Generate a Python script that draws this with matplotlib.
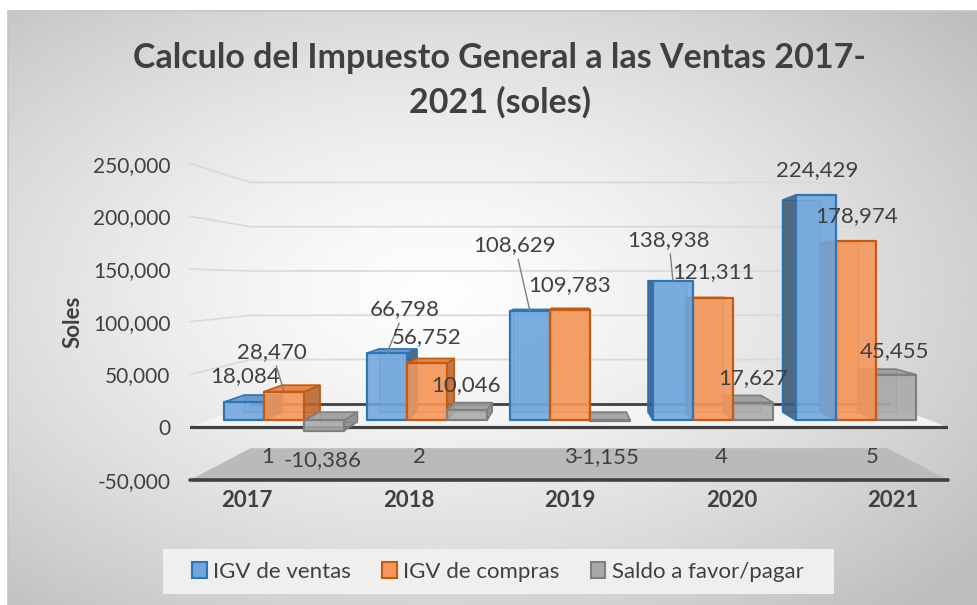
import numpy as np
import matplotlib.pyplot as plt
from matplotlib.patches import Polygon, Patch, Rectangle
from matplotlib.colors import to_rgba

# -----------------------------------------------------------------------------
# Data
# -----------------------------------------------------------------------------
years = ['2017', '2018', '2019', '2020', '2021']
depth_labels = ['1', '2', '3', '4', '5']
series_names = ['IGV de ventas', 'IGV de compras', 'Saldo a favor/pagar']
igv_ventas = [18084, 66798, 108629, 138938, 224429]
igv_compras = [28470, 56752, 109783, 121311, 178974]
saldo = [-10386, 10046, -1155, 17627, 45455]
yticks = [-50000, 0, 50000, 100000, 150000, 200000, 250000]

# -----------------------------------------------------------------------------
# Style / fake 3D settings
# -----------------------------------------------------------------------------
plt.rcParams['font.family'] = ['Lato', 'DejaVu Sans']
TXT = '#404040'
W, H = 978, 605

# series colours: front, side, top, edge
colors = [
    ('#6fa6dc', '#3a5874', '#5a8fc4', '#2e75b6'),
    ('#f4975a', '#b8662f', '#e27c3b', '#c55a11'),
    ('#a9a9a9', '#858585', '#9a9a9a', '#7f7f7f'),
]

# label offsets in pixels (dx, dy screen) from the bar top
label_offsets = [
    [(1, -26), (18, -44), (-15, -66), (-4, -41), (1, -25)],
    [(-12, -40), (0, -26), (0, -25), (0, -26), (1, -24)],
    [(-1, 29), (-1, -25), (-3, 36), (0, -24), (-1, -24)],
]
leaders = [
    [False, True, True, True, False],
    [True, False, False, False, False],
    [False, False, False, False, False],
]

XC = 2.0        # horizontal vanishing position (data x)
VV = 138500     # eye level (data y)
F1 = 0.84       # scale at back wall
Z0, Z1 = 0.3, 0.65
BW = 0.28
XL, XR = -0.53, 4.517
YMIN, YMAX = -50000, 250000


def proj(x, v, z):
    f = 1 - (1 - F1) * z
    return (XC + (x - XC) * f, VV + (v - VV) * f)


def fx(px):
    return px / W


def fy(py):
    return 1 - py / H


fig = plt.figure(figsize=(9.78, 6.05), dpi=100)
fig.patch.set_facecolor('white')

# background gradient (chart area)
bg = fig.add_axes([fx(8), 0, 1 - fx(8), fy(11)])
gx, gy = np.meshgrid(np.linspace(-1, 1, 400), np.linspace(-1, 1, 250))
r = np.sqrt((gx + 0.12) ** 2 + (gy + 0.05) ** 2)
g = 253 - 64 * np.clip(r / 1.45, 0, 1) ** 1.4
bg.imshow(g, cmap='gray', vmin=0, vmax=255, aspect='auto', extent=[0, 1, 0, 1])
bg.set_axis_off()
fig.add_artist(plt.Line2D([fx(8), 1], [fy(11), fy(11)], color='#c4c4c4', lw=1.2))
fig.add_artist(plt.Line2D([fx(8), fx(8)], [0, fy(11)], color='#c4c4c4', lw=1.2))

ax = fig.add_axes([fx(190), fy(480), fx(948) - fx(190), fy(163.6) - fy(480)])
ax.set_xlim(XL, XR)
ax.set_ylim(YMIN, YMAX)
ax.patch.set_alpha(0)
for s in ax.spines.values():
    s.set_visible(False)
ax.set_xticks([])
ax.set_yticks(yticks)
ax.set_yticklabels([f"{t:,}" for t in yticks], fontsize=15, color=TXT)
ax.tick_params(axis='y', length=0, pad=14)
ax.set_ylabel('Soles', fontsize=16, fontweight='bold', color=TXT)
ax.yaxis.set_label_coords(-0.140, 0.5)


def poly(pts, fc, ec, lw, z, alpha=1.0):
    ax.add_patch(Polygon(pts, closed=True, facecolor=to_rgba(fc, alpha), edgecolor=ec,
                         linewidth=lw, zorder=z, clip_on=False, joinstyle='round'))


# floor at the axis minimum
floor = [proj(XL, YMIN, 0), proj(XR, YMIN, 0), proj(XR, YMIN, 1), proj(XL, YMIN, 1)]
poly(floor, '#bababa', 'none', 0, 1)
# light floor at zero
zfloor = [proj(XL, 0, 0), proj(XR, 0, 0), proj(XR, 0, 1), proj(XL, 0, 1)]
poly(zfloor, '#f4f4f4', 'none', 0, 1)

# gridlines on side + back wall
for t in yticks:
    if t <= 0:
        continue
    p0 = proj(XL, t, 0)
    p1 = proj(XL, t, 1)
    p2 = proj(XR, t, 1)
    ax.plot([p0[0], p1[0], p2[0]], [p0[1], p1[1], p2[1]], color='#d9d9d9', lw=1.2,
            zorder=1.5, clip_on=False)

# back zero line
b0, b1 = proj(XL, 0, 1), proj(XR, 0, 1)
ax.plot([b0[0], b1[0]], [b0[1], b1[1]], color=TXT, lw=2.0, zorder=1.6, solid_capstyle='round')
# front lines
ax.plot([XL, XR], [0, 0], color=TXT, lw=2.3, zorder=1.7, solid_capstyle='round')
ax.plot([XL, XR], [YMIN, YMIN], color=TXT, lw=2.6, zorder=1.7, solid_capstyle='round',
        clip_on=False)

# bars, painted from the outside in
all_vals = [igv_ventas, igv_compras, saldo]
bars = []
for si, vals in enumerate(all_vals):
    for gi, v in enumerate(vals):
        xc = gi + (si - 1) * BW
        bars.append((abs(xc - XC), xc, v, si))
bars.sort(key=lambda b: -b[0])

for k, (_, xc, v, si) in enumerate(bars):
    front_c, side_c, top_c, edge_c = colors[si]
    x0, x1 = xc - BW / 2, xc + BW / 2
    lo, hi = min(0, v), max(0, v)
    z = 3 + k * 0.01
    back = [proj(x0, lo, Z1), proj(x1, lo, Z1), proj(x1, hi, Z1), proj(x0, hi, Z1)]
    poly(back, front_c, edge_c, 0.6, z, alpha=0.35)
    if abs(xc - XC) > 1e-6:
        sx = x1 if xc < XC else x0
        side = [proj(sx, lo, Z0), proj(sx, lo, Z1), proj(sx, hi, Z1), proj(sx, hi, Z0)]
        poly(side, side_c, edge_c, 1.2, z + 0.001, alpha=0.85)
    if hi < VV:
        top = [proj(x0, hi, Z0), proj(x1, hi, Z0), proj(x1, hi, Z1), proj(x0, hi, Z1)]
        poly(top, top_c, edge_c, 1.2, z + 0.002, alpha=0.85)
    front = [proj(x0, lo, Z0), proj(x1, lo, Z0), proj(x1, hi, Z0), proj(x0, hi, Z0)]
    poly(front, front_c, edge_c, 1.6, z + 0.003, alpha=0.88)

# data labels
for si, vals in enumerate(all_vals):
    for gi, v in enumerate(vals):
        xc = gi + (si - 1) * BW
        anchor = proj(xc, v, Z0)
        dx, dy = label_offsets[si][gi]
        kw = {}
        if leaders[si][gi]:
            kw['arrowprops'] = dict(arrowstyle='-', color='#7f7f7f', lw=1.0,
                                    shrinkA=1, shrinkB=0)
        ax.annotate(f"{v:,}", xy=anchor, xytext=(dx * 0.72, -dy * 0.72),
                    textcoords='offset points', ha='center', va='center',
                    fontsize=16, color=TXT, zorder=10, annotation_clip=False, **kw)

# depth labels on the floor and category labels
for gi, lab in enumerate(depth_labels):
    ax.text(XC + (gi - XC) * 1.005, -28500, lab, ha='center', va='center',
            fontsize=16, color=TXT, zorder=10)
for gi, yr in enumerate(years):
    ax.text(XC + (gi - XC) * 1.075, -69300, yr, ha='center', va='center',
            fontsize=16, fontweight='bold', color=TXT, zorder=10, clip_on=False)

# title
fig.text(fx(500), fy(80.5), "Calculo del Impuesto General a las Ventas 2017-\n2021 (soles)",
         ha='center', va='center', fontsize=24.5, fontweight='bold', color=TXT,
         linespacing=1.45)

# legend
fig.add_artist(Rectangle((fx(163), fy(594)), fx(834) - fx(163), fy(549) - fy(594),
                         transform=fig.transFigure, facecolor='#efefef', edgecolor='none',
                         zorder=0.5))
handles = [Patch(facecolor=colors[i][0], edgecolor=colors[i][3], lw=1.5, label=series_names[i])
           for i in range(3)]
leg = fig.legend(handles=handles, loc='center', bbox_to_anchor=(fx(498), fy(572)), ncol=3,
                 frameon=False, fontsize=16, handlelength=0.65,
                 handleheight=0.75, handletextpad=0.3, columnspacing=1.4)
for t in leg.get_texts():
    t.set_color(TXT)

fig.savefig('out.png', dpi=100)
